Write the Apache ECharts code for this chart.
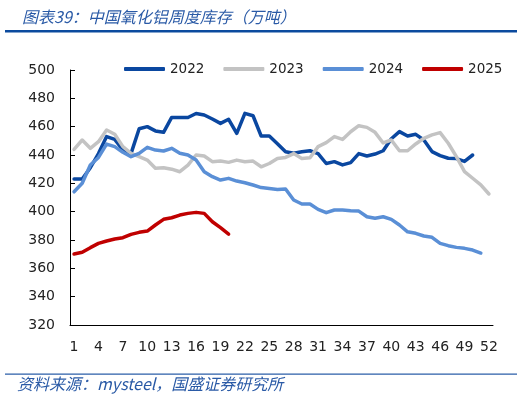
<!DOCTYPE html>
<html><head><meta charset="utf-8">
<script src="https://cdn.jsdelivr.net/npm/echarts@6/dist/echarts.min.js"></script>
<style>html,body{margin:0;padding:0;background:#fff}#c{width:526px;height:401px}</style>
</head><body><div id="c"></div>
<script>
const weeks = Array.from({length: 52}, (_, i) => String(i + 1));
const s2022 = [423,423,431,441,453,451,443.5,441,458.5,460,457,456,466.5,466.5,466.5,469.3,468.2,465.4,462.3,465.2,455.3,469.4,467.7,453.4,453.4,448,442.3,441.3,442.3,443,441,434,435.3,433,434.6,441,439.3,440.7,443,451.5,456.5,453.4,454.6,450.6,442.4,439.6,437.7,437.5,435.5,440];
const s2023 = [444,450.6,444.7,449.4,457.6,454.6,445.9,441.2,438.8,436.4,430.6,431,430,428.2,432.9,440,439.3,435.3,435.7,434.8,436.4,435.3,435.7,431.7,434,437.6,438.3,441,437.6,438,445.9,448.7,453,451,456.4,460.7,459.5,456,448.5,450.6,443,443,447.8,451.8,454.2,455.8,448.3,438.9,428.3,423.6,418.9,412.5];
const s2024 = [414,420,432.9,438.3,447.7,445.9,441.9,438.8,441.2,445.4,443.5,442.8,444.7,441.2,440,436.4,428.2,424.7,422.3,423.5,421.6,420.4,418.8,417,416.4,415.7,416,408.2,405.4,405.4,401.6,399.3,401.2,401.2,400.7,400.4,396.4,395.3,396.4,394.6,390.6,385.8,384.7,382.8,381.9,377.6,376,374.8,374.1,372.9,370.8];
const s2025 = [370.1,371.3,374.6,377.6,379.3,380.7,381.6,384,385.4,386.3,390.6,394.6,395.7,397.6,398.8,399.5,398.8,392.9,388.7,384.2];
const seriesNames = ['2022','2023','2024','2025'];
const colors = ['#0a47a0','#c3c3c3','#5a8fd6','#c00000'];
const yTicks = {min: 320, max: 500, interval: 20};

const chart = echarts.init(document.getElementById('c'), null, {renderer: 'canvas'});
const font = 'DejaVu Sans';
const mk = (name, data, color) => ({
  name, type: 'line', data, symbol: 'none', smooth: false,
  lineStyle: {color, width: 3.5, cap: 'round', join: 'round'},
  itemStyle: {color}, z: 2
});
chart.setOption({
  animation: false,
  backgroundColor: '#fff',
  title: {
    text: '图表39：中国氧化铝周度库存（万吨）',
    left: 17, top: 4,
    textStyle: {fontFamily: 'Noto Sans CJK SC', fontStyle: 'italic', fontWeight: 'normal', fontSize: 16, color: '#2a5aa6'}
  },
  graphic: [
    {type: 'rect', shape: {x: 5, y: 30, width: 512, height: 2.5}, style: {fill: '#0b4a9e'}},
    {type: 'rect', shape: {x: 5, y: 373.5, width: 512, height: 1.3}, style: {fill: '#2b5ea8'}},
    {type: 'text', left: 17, top: 376, style: {text: '资料来源：mysteel，国盛证券研究所', font: 'italic 16px "Noto Sans CJK SC"', fill: '#2a5aa6'}}
  ],
  legend: {
    data: seriesNames,
    left: 119, top: 57,
    itemWidth: 41, itemHeight: 4, itemGap: 19,
    icon: 'roundRect',
    textStyle: {fontFamily: font, fontSize: 13.5, color: '#222'}
  },
  grid: {left: 70, right: 33, top: 70, bottom: 76, containLabel: false},
  xAxis: {
    type: 'category', data: weeks, boundaryGap: true,
    axisLine: {lineStyle: {color: '#000', width: 1}},
    axisTick: {inside: true, length: 5, interval: 2, lineStyle: {color: '#000'}},
    axisLabel: {interval: 2, margin: 15, fontFamily: font, fontSize: 14, color: '#222'},
    splitLine: {show: false}
  },
  yAxis: {
    type: 'value', min: yTicks.min, max: yTicks.max, interval: yTicks.interval,
    axisLine: {show: true, lineStyle: {color: '#000', width: 1}},
    axisTick: {show: true, inside: true, length: 5, lineStyle: {color: '#000'}},
    axisLabel: {margin: 15, fontFamily: font, fontSize: 14, color: '#222'},
    splitLine: {show: false}
  },
  series: [
    mk('2022', s2022, colors[0]),
    mk('2023', s2023, colors[1]),
    mk('2024', s2024, colors[2]),
    mk('2025', s2025, colors[3])
  ]
});
</script></body></html>
